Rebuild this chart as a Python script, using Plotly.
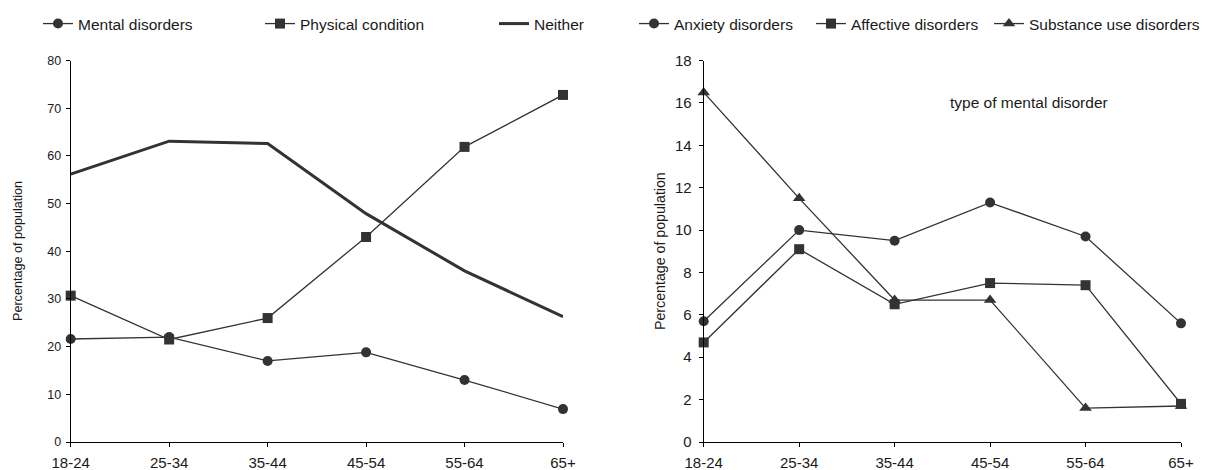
import plotly.graph_objects as go

# Age groups shared by both panels
age_groups = ["18-24", "25-34", "35-44", "45-54", "55-64", "65+"]

# Left panel: percentage of population by condition
mental_disorders = [21.6, 22.0, 17.0, 18.8, 13.0, 6.9]
physical_condition = [30.7, 21.5, 26.0, 43.0, 61.9, 72.8]
neither = [56.2, 63.1, 62.6, 47.9, 35.9, 26.3]

# Right panel: percentage of population by type of mental disorder
anxiety_disorders = [5.7, 10.0, 9.5, 11.3, 9.7, 5.6]
affective_disorders = [4.7, 9.1, 6.5, 7.5, 7.4, 1.8]
substance_use_disorders = [16.5, 11.5, 6.7, 6.7, 1.6, 1.7]

W, H = 1213, 470
INK = "#333333"
TEXT = "#1a1a1a"
FONT = "Arial, Liberation Sans, sans-serif"

fig = go.Figure()


def add_series(x, y, name, symbol, size, xa, ya, legend, lw, width=1.3, show_marker=True):
    fig.add_trace(go.Scatter(
        x=x, y=y, name=name,
        mode="lines+markers" if show_marker else "lines",
        line=dict(color=INK, width=width),
        marker=dict(symbol=symbol, size=size, color=INK, line=dict(width=0)),
        xaxis=xa, yaxis=ya, legend=legend, legendwidth=lw,
        cliponaxis=False,
    ))


add_series(age_groups, mental_disorders, "Mental disorders", "circle", 10, "x", "y", "legend", 177)
add_series(age_groups, physical_condition, "Physical condition", "square", 10, "x", "y", "legend", 189)
add_series(age_groups, neither, "Neither", "circle", 1, "x", "y", "legend", 50, width=3, show_marker=False)

add_series(age_groups, anxiety_disorders, "Anxiety disorders", "circle", 10, "x2", "y2", "legend2", 132)
add_series(age_groups, affective_disorders, "Affective disorders", "square", 10, "x2", "y2", "legend2", 133)
add_series(age_groups, substance_use_disorders, "Substance use disorders", "triangle-up", 11, "x2", "y2", "legend2", 175)

y_dom = [28 / H, (H - 60.6) / H]

axis_common = dict(
    showline=True, linecolor="#000000", linewidth=1,
    ticks="outside", ticklen=4, tickcolor="#000000", tickwidth=1,
    showgrid=False, zeroline=False, automargin=False,
)

fig.update_layout(
    width=W, height=H,
    margin=dict(l=0, r=0, t=0, b=0, autoexpand=False),
    paper_bgcolor="white", plot_bgcolor="white",
    font=dict(family=FONT, color=TEXT),
    xaxis=dict(axis_common, domain=[70.7 / W, 563 / W], type="category", range=[0, 5],
               tickfont=dict(size=15), anchor="y", ticklabelstandoff=3),
    yaxis=dict(axis_common, domain=y_dom, range=[0, 80], dtick=10,
               tickfont=dict(size=12.5), anchor="x", ticklabelstandoff=2),
    xaxis2=dict(axis_common, domain=[703.7 / W, 1181 / W], type="category", range=[0, 5],
                tickfont=dict(size=15), anchor="y2", ticklabelstandoff=3),
    yaxis2=dict(axis_common, domain=y_dom, range=[0, 18], dtick=2,
                tickfont=dict(size=15), anchor="x2", ticklabelstandoff=4),
    legend=dict(orientation="h", x=38 / W, xanchor="left", y=1 - 24 / H, yanchor="middle",
                font=dict(size=15.5, color=TEXT), bgcolor="rgba(0,0,0,0)"),
    legend2=dict(orientation="h", x=634 / W, xanchor="left", y=1 - 24 / H, yanchor="middle",
                 font=dict(size=15.5, color=TEXT), bgcolor="rgba(0,0,0,0)"),
    annotations=[
        dict(text="Percentage of population", textangle=-90, x=18 / W, y=(H - 251) / H,
             xanchor="center", yanchor="middle",
             xref="paper", yref="paper", showarrow=False, font=dict(size=12.6)),
        dict(text="Percentage of population", textangle=-90, x=660 / W, y=(H - 251) / H,
             xanchor="center", yanchor="middle",
             xref="paper", yref="paper", showarrow=False, font=dict(size=14.2)),
        dict(text="type of mental disorder", x=948 / W, y=(H - 92) / H, xanchor="left",
             xref="paper", yref="paper", showarrow=False, font=dict(size=15.5)),
    ],
)

fig.write_html("out.html")
